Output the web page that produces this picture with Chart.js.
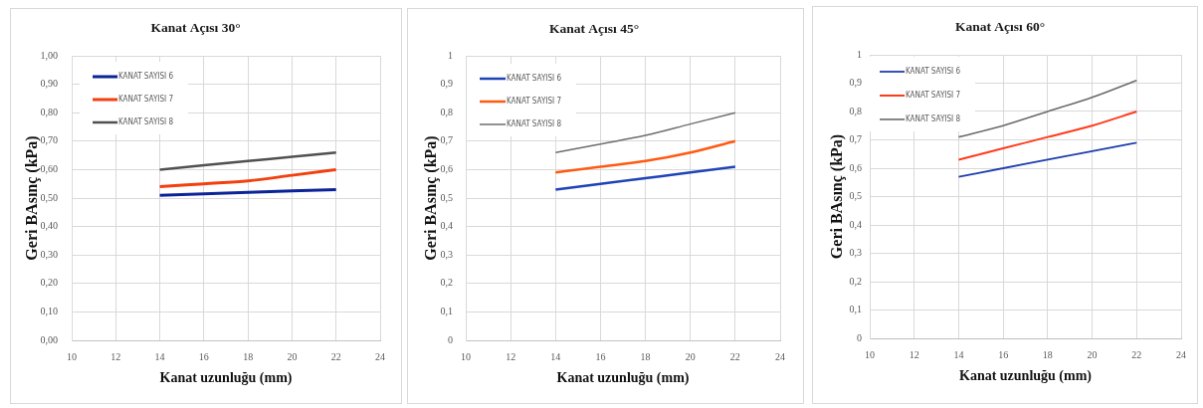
<!DOCTYPE html>
<html>
<head>
<meta charset="utf-8">
<script src="https://cdn.jsdelivr.net/npm/chart.js@4/dist/chart.umd.min.js"></script>
<style>
  body { margin: 0; background: #fff; }
  canvas { position: absolute; border: 1px solid #d9d9d9; background: #fff; }
</style>
</head>
<body>
<canvas id="c30"></canvas>
<canvas id="c45"></canvas>
<canvas id="c60"></canvas>
<script>
// veriler
const kanatUzunlugu = [14, 16, 18, 20, 22];
const seriAdlari = ['KANAT SAYISI 6', 'KANAT SAYISI 7', 'KANAT SAYISI 8'];
const basliklar = ['Kanat Açısı 30°', 'Kanat Açısı 45°', 'Kanat Açısı 60°'];
const xEksenBaslik = 'Kanat uzunluğu (mm)';
const yEksenBaslik = 'Geri BAsınç (kPa)';

const aci30_kanat6 = [0.51, 0.515, 0.52, 0.525, 0.53];
const aci30_kanat7 = [0.54, 0.55, 0.56, 0.58, 0.60];
const aci30_kanat8 = [0.60, 0.615, 0.63, 0.645, 0.66];

const aci45_kanat6 = [0.53, 0.55, 0.57, 0.59, 0.61];
const aci45_kanat7 = [0.59, 0.61, 0.63, 0.66, 0.70];
const aci45_kanat8 = [0.66, 0.69, 0.72, 0.76, 0.80];

const aci60_kanat6 = [0.57, 0.60, 0.63, 0.66, 0.69];
const aci60_kanat7 = [0.63, 0.67, 0.71, 0.75, 0.80];
const aci60_kanat8 = [0.71, 0.75, 0.80, 0.85, 0.91];

const xTicks = [10, 12, 14, 16, 18, 20, 22, 24];
const yTicks = [0, 0.1, 0.2, 0.3, 0.4, 0.5, 0.6, 0.7, 0.8, 0.9, 1];
const yOndalik = [2, 0, 0]; // 30° grafiği 0,00 biçiminde

// panel yerleşimi (piksel)
const paneller = [
  { id: 'c30', left: 10, top: 8, w: 392, h: 396, yW: 61, xH: 63, padR: 21, tTop: 11.9, tBot: 18.9, yTP: 12.4, yTick: 14, xTP: 16.6,
    lg: { dx: 21, dy: 21, gap: 23, len: 25 }, renk: ['#0b2399', '#f2400f', '#505050'], kalin: [3, 3, 2.5] },
  { id: 'c45', left: 407, top: 8, w: 397, h: 396, yW: 58, xH: 63, padR: 23, tTop: 12.9, tBot: 17.9, yTP: 14.4, yTick: 13, xTP: 16.6,
    lg: { dx: 14, dy: 23, gap: 23, len: 26 }, renk: ['#1f44b8', '#ff5a12', '#6e6e6e'], kalin: [2.5, 2.5, 1.5] },
  { id: 'c60', left: 812, top: 6, w: 386, h: 398, yW: 57, xH: 65, padR: 10, tTop: 12.9, tBot: 18.9, yTP: 15.4, yTick: 8, xTP: 18.6,
    lg: { dx: 10, dy: 17, gap: 24, len: 25 }, renk: ['#1f3fae', '#ff3c1c', '#6a6a6a'], kalin: [1.8, 2, 1.6] }
];
const veriler = [
  [aci30_kanat6, aci30_kanat7, aci30_kanat8],
  [aci45_kanat6, aci45_kanat7, aci45_kanat8],
  [aci60_kanat6, aci60_kanat7, aci60_kanat8]
];

// grafik içindeki açıklama kutusu
const icAciklama = {
  id: 'icAciklama',
  beforeDatasetsDraw(chart, args, opts) {
    const { ctx, chartArea } = chart;
    const x0 = chartArea.left + opts.dx;
    const y0 = chartArea.top + opts.dy;
    const n = chart.data.datasets.length;
    ctx.save();
    ctx.fillStyle = '#ffffff';
    ctx.fillRect(x0 - 13, y0 - 15, opts.len + 84, (n - 1) * opts.gap + 27);
    ctx.font = '8px "DejaVu Sans Condensed", "Liberation Sans", sans-serif';
    ctx.textBaseline = 'middle';
    chart.data.datasets.forEach((ds, i) => {
      const y = y0 + i * opts.gap;
      ctx.strokeStyle = ds.borderColor;
      ctx.lineWidth = ds.borderWidth;
      ctx.beginPath();
      ctx.moveTo(x0, y);
      ctx.lineTo(x0 + opts.len, y);
      ctx.stroke();
      ctx.fillStyle = '#595959';
      ctx.fillText(ds.label, x0 + opts.len + 1, y);
    });
    ctx.restore();
  }
};

paneller.forEach((p, k) => {
  const cv = document.getElementById(p.id);
  cv.width = p.w;
  cv.height = p.h;
  cv.style.left = p.left + 'px';
  cv.style.top = p.top + 'px';

  const datasets = veriler[k].map((seri, i) => ({
    label: seriAdlari[i],
    data: kanatUzunlugu.map((x, j) => ({ x: x, y: seri[j] })),
    borderColor: p.renk[i],
    backgroundColor: p.renk[i],
    borderWidth: p.kalin[i],
    pointRadius: 0,
    cubicInterpolationMode: 'monotone',
    fill: false
  }));

  new Chart(cv, {
    type: 'line',
    data: { datasets: datasets },
    plugins: [icAciklama],
    options: {
      responsive: false,
      animation: false,
      devicePixelRatio: 1,
      layout: { padding: { left: 0, right: p.padR, top: 0, bottom: 0 } },
      plugins: {
        legend: { display: false },
        tooltip: { enabled: false },
        title: {
          display: true,
          text: basliklar[k],
          color: '#1a1a1a',
          font: { family: '"Liberation Serif", serif', size: 13.5, weight: 'bold' },
          padding: { top: p.tTop, bottom: p.tBot }
        },
        icAciklama: p.lg
      },
      scales: {
        x: {
          type: 'linear',
          min: xTicks[0],
          max: xTicks[xTicks.length - 1],
          afterBuildTicks: s => { s.ticks = xTicks.map(v => ({ value: v })); },
          afterFit: s => { s.height = p.xH; },
          grid: { color: '#d9d9d9', drawTicks: false },
          border: { color: '#bfbfbf', width: 1 },
          ticks: { color: '#595959', padding: 11, font: { family: '"Liberation Serif", serif', size: 10 } },
          title: {
            display: true,
            text: xEksenBaslik,
            color: '#111',
            font: { family: '"Liberation Serif", serif', size: 14, weight: 'bold' },
            padding: { top: 0, bottom: p.xTP }
          }
        },
        y: {
          min: yTicks[0],
          max: yTicks[yTicks.length - 1],
          afterBuildTicks: s => { s.ticks = yTicks.map(v => ({ value: v })); },
          afterFit: s => { s.width = p.yW; },
          grid: { color: '#d9d9d9', drawTicks: false },
          border: { color: '#d9d9d9', width: 1 },
          ticks: {
            color: '#595959',
            padding: p.yTick,
            font: { family: '"Liberation Serif", serif', size: 10 },
            callback: v => {
              const d = yOndalik[k];
              return (d > 0 ? v.toFixed(d) : String(Math.round(v * 10) / 10)).replace('.', ',');
            }
          },
          title: {
            display: true,
            text: yEksenBaslik,
            color: '#111',
            font: { family: '"Liberation Serif", serif', size: 16, weight: 'bold' },
            padding: { top: p.yTP, bottom: 0 }
          }
        }
      }
    }
  });
});
</script>
</body>
</html>
